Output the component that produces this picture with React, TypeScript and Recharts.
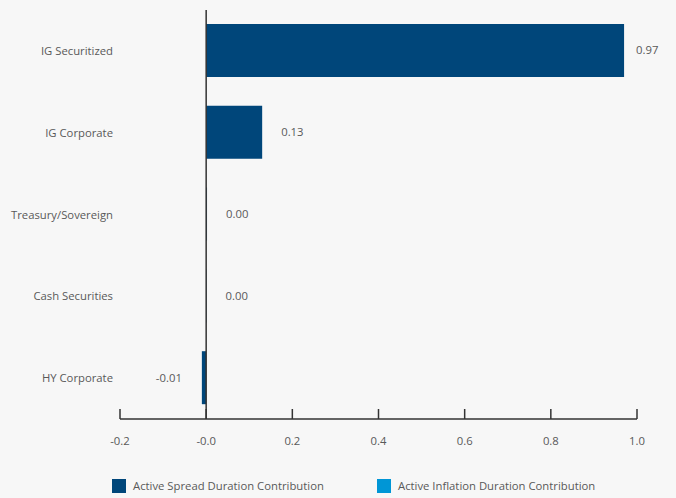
import { BarChart, Bar, XAxis, YAxis, ReferenceLine, LabelList, Legend } from "recharts"

const categories = ["IG Securitized", "IG Corporate", "Treasury/Sovereign", "Cash Securities", "HY Corporate"]
const spreadValues = [0.97, 0.13, 0.002, 0.001, -0.01]
const inflationValues = [0, 0, 0, 0, 0]
const xTicks = [-0.2, 0, 0.2, 0.4, 0.6, 0.8, 1.0]

const data = categories.map((name, i) => ({
  name,
  spread: spreadValues[i],
  inflation: inflationValues[i],
}))

const DARK = "#00467a"
const LIGHT = "#0096d6"
const TEXT = "#595959"
const FS = 11.3

const XTick = (props: any) => {
  const { x, y, payload } = props
  const v = payload.value
  const label = v === 0 ? "-0.0" : v.toFixed(1)
  return (
    <g>
      <line x1={x} x2={x} y1={y - 10} y2={y} stroke="#333" strokeWidth={1.5} />
      <text x={x} y={y + 26} textAnchor="middle" fill={TEXT} fontSize={FS}>
        {label}
      </text>
    </g>
  )
}

const ValueLabel = (props: any) => {
  const { x, y, width, height, value } = props
  const neg = value < 0
  const end = x + width
  return (
    <text
      x={neg ? end - 20 : Math.min(end + 19, 636)}
      y={y + height / 2}
      dy="0.35em"
      textAnchor={neg ? "end" : "start"}
      fill={TEXT}
      fontSize={FS}
    >
      {Number(value).toFixed(2)}
    </text>
  )
}

const LegendContent = () => {
  const items = [
    { label: "Active Spread Duration Contribution", color: DARK, x: 0 },
    { label: "Active Inflation Duration Contribution", color: LIGHT, x: 265 },
  ]
  return (
    <div style={{ position: "relative", height: 16 }}>
      {items.map((it) => (
        <div
          key={it.label}
          style={{ position: "absolute", left: it.x, top: 0, display: "flex", alignItems: "center" }}
        >
          <span style={{ display: "inline-block", width: 14, height: 14, background: it.color }} />
          <span style={{ marginLeft: 7, fontSize: FS, color: TEXT, whiteSpace: "nowrap" }}>{it.label}</span>
        </div>
      ))}
    </div>
  )
}

export default function App() {
  return (
    <div
      style={{
        position: "absolute",
        left: 0,
        top: 0,
        width: 676,
        height: 498,
        background: "#f7f7f7",
        fontFamily: "'Open Sans', sans-serif",
      }}
    >
      <BarChart
        width={676}
        height={498}
        data={data}
        layout="vertical"
        stackOffset="sign"
        margin={{ top: 10, right: 39, bottom: 33, left: 0 }}
      >
        <XAxis
          type="number"
          domain={[-0.2, 1.0]}
          ticks={xTicks}
          height={30}
          axisLine={{ stroke: "#333", strokeWidth: 1.5 }}
          tickLine={false}
          tickSize={0}
          tickMargin={0}
          tick={<XTick />}
          interval={0}
        />
        <YAxis
          type="category"
          dataKey="name"
          width={120}
          axisLine={false}
          tickLine={false}
          tickSize={0}
          tickMargin={7}
          tick={{ fill: TEXT, fontSize: FS }}
        />
        <ReferenceLine x={0} stroke="#333" strokeWidth={1.5} />
        <Legend
          verticalAlign="bottom"
          align="left"
          content={<LegendContent />}
          wrapperStyle={{ top: 478, left: 112, bottom: "auto", width: 520, height: 16 }}
        />
        <Bar dataKey="spread" name="Active Spread Duration Contribution" fill={DARK} barSize={53} stackId="a" isAnimationActive={false}>
          <LabelList dataKey="spread" content={<ValueLabel />} />
        </Bar>
        <Bar dataKey="inflation" name="Active Inflation Duration Contribution" fill={LIGHT} barSize={53} stackId="a" isAnimationActive={false} />
      </BarChart>
    </div>
  )
}
